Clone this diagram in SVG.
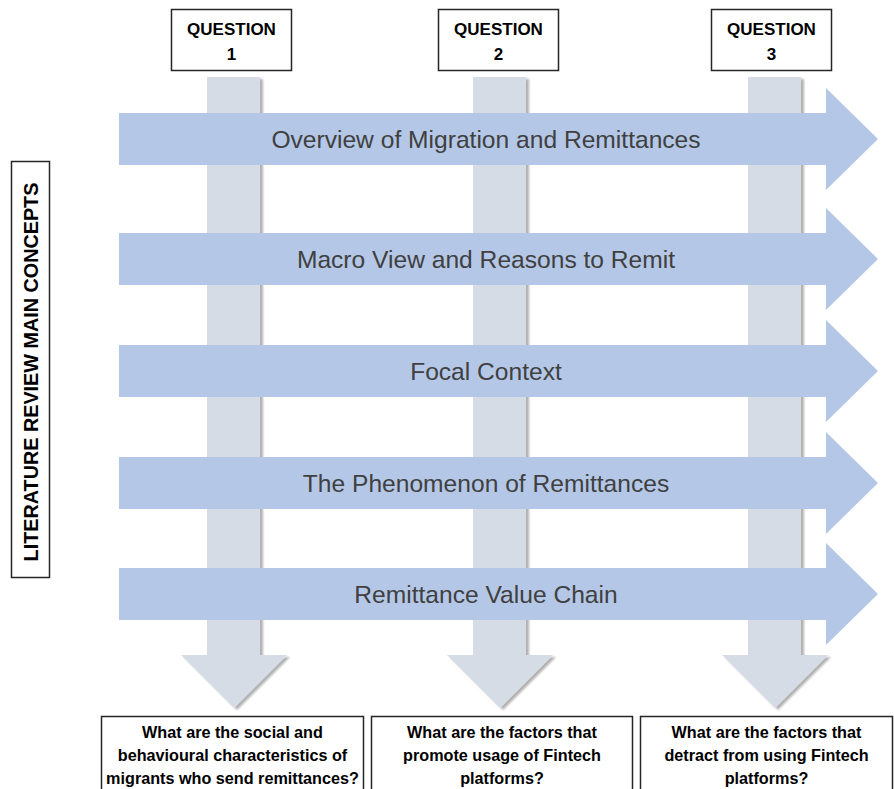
<svg xmlns="http://www.w3.org/2000/svg" width="894" height="789" viewBox="0 0 894 789">
<defs>
<filter id="sh" x="-20%" y="-5%" width="150%" height="115%">
<feDropShadow dx="3" dy="2" stdDeviation="1.3" flood-color="#000" flood-opacity="0.3"/>
</filter>
<style>
.vbar{fill:#D6DCE5;filter:url(#sh);}
.harrow{fill:#B4C7E7;}
.box{fill:#fff;stroke:#262626;stroke-width:1.5;}
.ttl{font-family:"Liberation Sans",Arial,sans-serif;font-size:24.6px;fill:#404040;text-anchor:middle;}
.q{font-family:"Liberation Sans",Arial,sans-serif;font-size:17px;font-weight:bold;fill:#000;text-anchor:middle;}
.bq{font-family:"Liberation Sans",Arial,sans-serif;font-size:16.2px;font-weight:bold;fill:#000;text-anchor:middle;}
.lbl{font-family:"Liberation Sans",Arial,sans-serif;font-size:19.8px;font-weight:bold;fill:#000;text-anchor:middle;}
</style>
</defs>
<rect width="894" height="789" fill="#fff"/>

<g id="connectors">
<polygon class="vbar" points="207,77 260,77 260,655 287,655 234,708 181,655 207,655"/>
<polygon class="vbar" points="473,77 526,77 526,655 553,655 500,708 447,655 473,655"/>
<polygon class="vbar" points="748,77 801,77 801,655 828,655 775,708 722,655 748,655"/>
</g>

<g id="concept1">
<polygon class="harrow" points="119,113 826,113 826,88 878,139 826,190 826,165 119,165"/>
<text class="ttl" x="486" y="147.5">Overview of Migration and Remittances</text>
</g>
<g id="concept2">
<polygon class="harrow" points="119,233 826,233 826,208 878,259 826,310 826,285 119,285"/>
<text class="ttl" x="486" y="267.5">Macro View and Reasons to Remit</text>
</g>
<g id="concept3">
<polygon class="harrow" points="119,345 826,345 826,320 878,371 826,422 826,397 119,397"/>
<text class="ttl" x="486" y="379.5">Focal Context</text>
</g>
<g id="concept4">
<polygon class="harrow" points="119,457 826,457 826,432 878,483 826,534 826,509 119,509"/>
<text class="ttl" x="486" y="491.5">The Phenomenon of Remittances</text>
</g>
<g id="concept5">
<polygon class="harrow" points="119,568 826,568 826,543 878,594 826,645 826,620 119,620"/>
<text class="ttl" x="486" y="602.5">Remittance Value Chain</text>
</g>

<g id="question1">
<rect class="box" x="171.5" y="9.5" width="120" height="61"/>
<text class="q" x="231.5" y="35">QUESTION</text>
<text class="q" x="231.5" y="60">1</text>
</g>
<g id="question2">
<rect class="box" x="438.5" y="9.5" width="120" height="61"/>
<text class="q" x="498.5" y="35">QUESTION</text>
<text class="q" x="498.5" y="60">2</text>
</g>
<g id="question3">
<rect class="box" x="711.5" y="9.5" width="120" height="61"/>
<text class="q" x="771.5" y="35">QUESTION</text>
<text class="q" x="771.5" y="60">3</text>
</g>

<g id="label">
<rect class="box" x="11.5" y="161.5" width="38" height="416"/>
<text class="lbl" transform="translate(38,372) rotate(-90)">LITERATURE REVIEW MAIN CONCEPTS</text>
</g>

<g id="answer1">
<rect class="box" x="101.5" y="716.5" width="262" height="80"/>
<text class="bq" x="232.5" y="738">What are the social and</text>
<text class="bq" x="232.5" y="761">behavioural characteristics of</text>
<text class="bq" x="232.5" y="784">migrants who send remittances?</text>
</g>
<g id="answer2">
<rect class="box" x="371.5" y="716.5" width="261" height="80"/>
<text class="bq" x="502" y="738">What are the factors that</text>
<text class="bq" x="502" y="761">promote usage of Fintech</text>
<text class="bq" x="502" y="784">platforms?</text>
</g>
<g id="answer3">
<rect class="box" x="640.5" y="716.5" width="252" height="80"/>
<text class="bq" x="766.5" y="738">What are the factors that</text>
<text class="bq" x="766.5" y="761">detract from using Fintech</text>
<text class="bq" x="766.5" y="784">platforms?</text>
</g>
</svg>
